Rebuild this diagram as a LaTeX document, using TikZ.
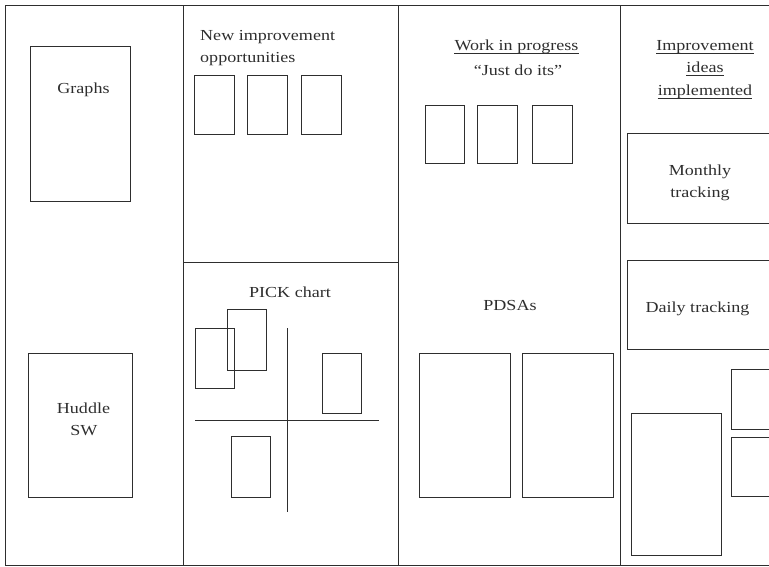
\documentclass[tikz,border=0pt]{standalone}
\usepackage{fontspec}
\setmainfont[FakeStretch=1.18]{Liberation Serif}
\definecolor{boardgray}{HTML}{2E2E2E}
\begin{document}
\begin{tikzpicture}[x=1pt,y=-1pt,
  ink/.style={draw=boardgray, line width=1pt},
  lbl/.style={text=boardgray, inner sep=0pt, anchor=base, font=\fontsize{15.3}{22}\selectfont},
  uline/.style={draw=boardgray, line width=0.6pt},
]
\useasboundingbox (0,0) rectangle (769,566);
\clip (0,0) rectangle (769,566);

% board outline and column dividers
\draw[ink] (790,5) -- (5,5) -- (5,565) -- (790,565);
\draw[ink] (183,5) -- (183,565);
\draw[ink] (398,5) -- (398,565);
\draw[ink] (620,5) -- (620,565);
\draw[ink] (183,262) -- (398,262);

% column 1: graphs and huddle sheet
\draw[ink] (30,46) rectangle (130,201);
\draw[ink] (28,353) rectangle (132,497);
\node[lbl] (graphs) at (83.5,93) {Graphs};
\node[lbl] (huddle) at (83.5,413) {Huddle};
\node[lbl] (sw) at (84,435) {SW};

% column 2 top: new opportunities
\node[lbl, anchor=base west] (newimp) at (200,40) {New improvement};
\node[lbl, anchor=base west] (opps) at (200,62) {opportunities};
\draw[ink] (194,75) rectangle (234,134);
\draw[ink] (247,75) rectangle (287,134);
\draw[ink] (301,75) rectangle (341,134);

% column 2 bottom: PICK chart
\node[lbl] (pick) at (290,297) {PICK chart};
\draw[ink] (287,328) -- (287,512);
\draw[ink] (195,420) -- (379,420);
\draw[ink] (195,328) rectangle (234,388);
\draw[ink] (227,309) rectangle (266,370);
\draw[ink] (322,353) rectangle (361,413);
\draw[ink] (231,436) rectangle (270,497);

% column 3: work in progress and PDSAs
\node[lbl] (wip) at (516.5,50) {Work in progress};
\draw[uline] ([yshift=-3pt]wip.base west) -- ([yshift=-3pt]wip.base east);
\node[lbl] (jdi) at (518,75) {``Just do its''};
\draw[ink] (425,105) rectangle (464,163);
\draw[ink] (477,105) rectangle (517,163);
\draw[ink] (532,105) rectangle (572,163);
\node[lbl] (pdsa) at (510,310) {PDSAs};
\draw[ink] (419,353) rectangle (510,497);
\draw[ink] (522,353) rectangle (613,497);

% column 4: implemented ideas and tracking
\node[lbl] (imp1) at (705,50) {Improvement};
\node[lbl] (imp2) at (705,72) {ideas};
\node[lbl] (imp3) at (705,95) {implemented};
\foreach \n in {imp1,imp2,imp3}
  \draw[uline] ([yshift=-3pt]\n.base west) -- ([yshift=-3pt]\n.base east);
\draw[ink] (627,133) rectangle (790,223);
\node[lbl] (month) at (700,175) {Monthly};
\node[lbl] (mtrack) at (700,197) {tracking};
\draw[ink] (627,260) rectangle (790,349);
\node[lbl] (daily) at (697.5,312) {Daily tracking};
\draw[ink] (631,413) rectangle (721,555);
\draw[ink] (731,369) rectangle (790,429);
\draw[ink] (731,437) rectangle (790,496);
\end{tikzpicture}
\end{document}
